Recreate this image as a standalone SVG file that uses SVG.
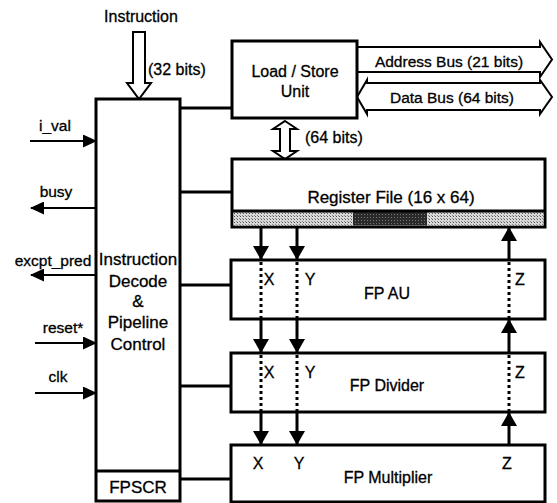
<svg xmlns="http://www.w3.org/2000/svg" width="557" height="503" viewBox="0 0 557 503">
<style>
text{font-family:"Liberation Sans",Arial,sans-serif;font-size:16px;fill:#000;stroke:#000;stroke-width:0.3}
.c{text-anchor:middle}
.big{font-size:17px}
.sm{font-size:15.5px}
.box{fill:#fff;stroke:#000;stroke-width:3}
.bus{fill:#fff;stroke:#000;stroke-width:2;stroke-linejoin:miter}
.wire{stroke:#000;stroke-width:3;fill:none}
.sig{stroke:#000;stroke-width:2;fill:none}
.dot{stroke:#000;stroke-width:3;stroke-dasharray:3 3;fill:none}
</style>
<defs>
<marker id="ah" viewBox="0 0 14 16" refX="13" refY="8" markerWidth="14" markerHeight="16" orient="auto" markerUnits="userSpaceOnUse"><path d="M0,0 L14,8 L0,16 z" fill="#000"/></marker>
<marker id="sh" viewBox="0 0 14 13" refX="13" refY="6.5" markerWidth="14" markerHeight="13" orient="auto" markerUnits="userSpaceOnUse"><path d="M0,0 L14,6.5 L0,13 z" fill="#000"/></marker>
<pattern id="hatch" width="3" height="3" patternUnits="userSpaceOnUse"><rect width="3" height="3" fill="#d8d8d8"/><rect width="1" height="1" fill="#555"/><rect x="2" y="2" width="1" height="1" fill="#888"/></pattern>
<pattern id="dark" width="3" height="3" patternUnits="userSpaceOnUse"><rect width="3" height="3" fill="#2a2a2a"/><rect x="1" y="1" width="1" height="1" fill="#777"/></pattern>
</defs>

<g id="connectors">
<line class="wire" x1="180" y1="108" x2="232" y2="108"/>
<line class="wire" x1="180" y1="192" x2="232" y2="192"/>
<line class="wire" x1="180" y1="285" x2="231" y2="285"/>
<line class="wire" x1="180" y1="386" x2="231" y2="386"/>
<line class="wire" x1="180" y1="479" x2="231" y2="479"/>
<!-- left signals -->
<line class="sig" x1="30" y1="141" x2="96" y2="141" marker-end="url(#sh)"/>
<line class="sig" x1="96" y1="208" x2="31" y2="208" marker-end="url(#sh)"/>
<line class="sig" x1="96" y1="275" x2="31" y2="275" marker-end="url(#sh)"/>
<line class="sig" x1="35" y1="343" x2="96" y2="343" marker-end="url(#sh)"/>
<line class="sig" x1="35" y1="393" x2="96" y2="393" marker-end="url(#sh)"/>
<!-- hollow bus arrows -->
<polygon id="instr-bus" class="bus" points="133,32 145,32 145,83 151,83 139,99 127,83 133,83"/>
<polygon id="addr-bus" class="bus" points="357,47 540,47 540,42 552,59.5 540,77 540,72 357,72"/>
<polygon id="data-bus" class="bus" points="357,97 367,80 367,83 540,83 540,80 552,97 540,114 540,110 367,110 367,114"/>
<polygon id="rf-bus" class="bus" points="285,121 297,129 290,129 290,151 297,151 285,159 273,151 280,151 280,129 273,129"/>
<!-- X, Y, Z paths -->
<line class="wire" x1="261" y1="227" x2="261" y2="259" marker-end="url(#ah)"/>
<line class="wire" x1="297" y1="227" x2="297" y2="259" marker-end="url(#ah)"/>
<line class="wire" x1="509" y1="260" x2="509" y2="228" marker-end="url(#ah)"/>
<line class="wire" x1="261" y1="319" x2="261" y2="352" marker-end="url(#ah)"/>
<line class="wire" x1="297" y1="319" x2="297" y2="352" marker-end="url(#ah)"/>
<line class="wire" x1="509" y1="353" x2="509" y2="320" marker-end="url(#ah)"/>
<line class="wire" x1="261" y1="412" x2="261" y2="444" marker-end="url(#ah)"/>
<line class="wire" x1="297" y1="412" x2="297" y2="444" marker-end="url(#ah)"/>
<line class="wire" x1="509" y1="445" x2="509" y2="413" marker-end="url(#ah)"/>
</g>

<g id="labels">
<text class="c" x="141" y="22">Instruction</text>
<text x="148" y="75">(32 bits)</text>
<text x="305" y="143">(64 bits)</text>
<text class="c sm" x="449" y="67">Address Bus (21 bits)</text>
<text class="c sm" x="452" y="103">Data Bus (64 bits)</text>
<text class="c sm" x="55" y="131">i_val</text>
<text class="c sm" x="56" y="197">busy</text>
<text class="c sm" x="53" y="266">excpt_pred</text>
<text class="c sm" x="63" y="333">reset*</text>
<text class="c sm" x="58" y="382">clk</text>
</g>

<g id="decode">
<rect class="box" x="96" y="99" width="84" height="402"/>
<line class="wire" x1="96" y1="471" x2="180" y2="471"/>
<text class="c big" x="138" y="265">Instruction</text>
<text class="c big" x="138" y="287">Decode</text>
<text class="c big" x="138" y="307">&amp;</text>
<text class="c big" x="138" y="328">Pipeline</text>
<text class="c big" x="138" y="350">Control</text>
</g>
<g id="fpscr">
<text class="c big" x="138" y="493">FPSCR</text>
</g>

<g id="lsu">
<rect class="box" x="232" y="41" width="125" height="77"/>
<text class="c" x="295" y="77">Load / Store</text>
<text class="c" x="295" y="97">Unit</text>
</g>

<g id="regfile">
<rect class="box" x="232" y="159" width="313" height="68"/>
<rect x="233.5" y="212" width="310" height="13.5" fill="url(#hatch)"/>
<rect x="353" y="212" width="74" height="13.5" fill="url(#dark)"/>
<line class="wire" x1="232" y1="211" x2="545" y2="211" stroke-width="2"/>
<text class="c big" x="391" y="203">Register File (16 x 64)</text>
</g>

<g id="fpau">
<rect class="box" x="231" y="260" width="314" height="59"/>
<line class="dot" x1="261" y1="262" x2="261" y2="318"/>
<line class="dot" x1="297" y1="262" x2="297" y2="318"/>
<line class="dot" x1="509" y1="262" x2="509" y2="318"/>
<text class="c" x="269" y="285">X</text>
<text class="c" x="310" y="285">Y</text>
<text class="c" x="520" y="285">Z</text>
<text class="c" x="387" y="299">FP AU</text>
</g>

<g id="fpdiv">
<rect class="box" x="231" y="353" width="314" height="59"/>
<line class="dot" x1="261" y1="355" x2="261" y2="411"/>
<line class="dot" x1="297" y1="355" x2="297" y2="411"/>
<line class="dot" x1="509" y1="355" x2="509" y2="411"/>
<text class="c" x="269" y="378">X</text>
<text class="c" x="310" y="378">Y</text>
<text class="c" x="520" y="378">Z</text>
<text class="c" x="387" y="391">FP Divider</text>
</g>

<g id="fpmul">
<rect class="box" x="231" y="445" width="314" height="57"/>
<text class="c" x="258" y="469">X</text>
<text class="c" x="299" y="469">Y</text>
<text class="c" x="507" y="469">Z</text>
<text class="c" x="388" y="483">FP Multiplier</text>
</g>
</svg>
